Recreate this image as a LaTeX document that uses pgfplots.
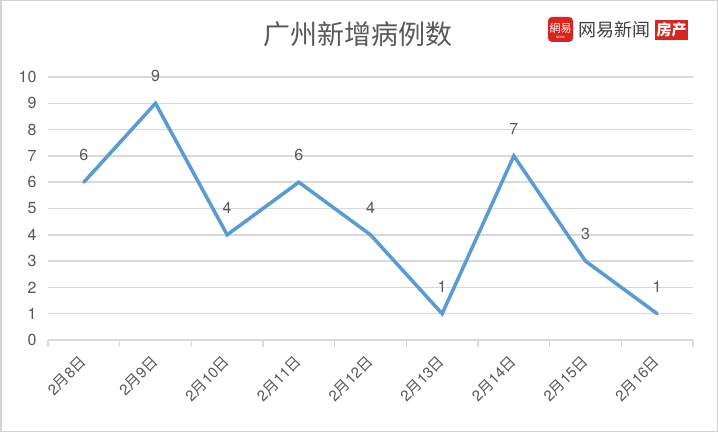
\documentclass[border=0pt]{standalone}
\usepackage{fontspec}
\setmainfont{TeX Gyre Heros}
\newfontfamily\cjk{Noto Sans CJK SC}
\usepackage{pgfplots}
\pgfplotsset{compat=1.18}
\definecolor{seriesblue}{HTML}{5B9BD5}
\definecolor{txtgray}{HTML}{595959}
\definecolor{gridgray}{HTML}{D9D9D9}
\definecolor{framegray}{HTML}{D4D4D4}
\definecolor{logored}{HTML}{D9251D}
\begin{document}
\begin{tikzpicture}[x=1pt,y=1pt]
\useasboundingbox (0,0) rectangle (718,432);
\fill[white] (0,0) rectangle (718,432);
\draw[framegray, line width=1.5pt] (0.75,0.75) rectangle (717.25,431.25);

% title
\node[text=txtgray, font=\cjk\fontsize{27}{30}\selectfont] at (358,398) {广州新增病例数};

% watermark
\fill[logored, rounded corners=4pt] (548,390) rectangle (573,415);
\node[white, font=\cjk\fontsize{11}{11}\selectfont, inner sep=0pt] at (560.5,404) {網易};
\node[white, font=\fontsize{3}{3}\selectfont, inner sep=0pt] at (560.5,395) {NEWS};
\node[text=black!75, font=\cjk\fontsize{18}{20}\selectfont, inner sep=0pt] at (614.5,402) {网易新闻};
\fill[logored] (655,392) rectangle (688,412);
\node[white, font=\cjk\bfseries\fontsize{15}{16}\selectfont, inner sep=0pt] at (671.5,402) {房产};

\begin{axis}[
    at={(48pt,92pt)}, anchor=south west,
    scale only axis,
    width=645pt, height=263pt,
    xmin=-0.5, xmax=8.5,
    ymin=0, ymax=10,
    ytick={0,1,...,10},
    xtick={0,...,8},
    xticklabels={2{\cjk 月}8{\cjk 日},2{\cjk 月}9{\cjk 日},2{\cjk 月}10{\cjk 日},
                 2{\cjk 月}11{\cjk 日},2{\cjk 月}12{\cjk 日},2{\cjk 月}13{\cjk 日},
                 2{\cjk 月}14{\cjk 日},2{\cjk 月}15{\cjk 日},2{\cjk 月}16{\cjk 日}},
    minor xtick={-0.5,0.5,...,8.5},
    major tick length=0pt,
    minor tick length=7pt,
    tick align=outside,
    xtick style={gridgray, line width=1.5pt},
    ytick style={draw=none},
    axis x line*=bottom,
    axis y line*=left,
    x axis line style={gridgray, line width=1.5pt, -},
    y axis line style={draw=none},
    ymajorgrids,
    grid style={gridgray, line width=1.5pt},
    /pgf/number format/assume math mode=true,
    yticklabel style={text=txtgray, font=\fontsize{16}{18}\selectfont, xshift=-8pt},
    xticklabel style={text=txtgray, font=\fontsize{15}{17}\selectfont,
                      xshift=2pt, yshift=-17pt, rotate=45, anchor=east},
    clip=false,
]
\addplot[seriesblue, line width=3.5pt, mark=none, line cap=round,
    nodes near coords,
    every node near coord/.append style={text=txtgray, font=\fontsize{16}{18}\selectfont, yshift=16pt}]
    coordinates {(0,6) (1,9) (2,4) (3,6) (4,4) (5,1) (6,7) (7,3) (8,1)};
\end{axis}
\end{tikzpicture}
\end{document}
